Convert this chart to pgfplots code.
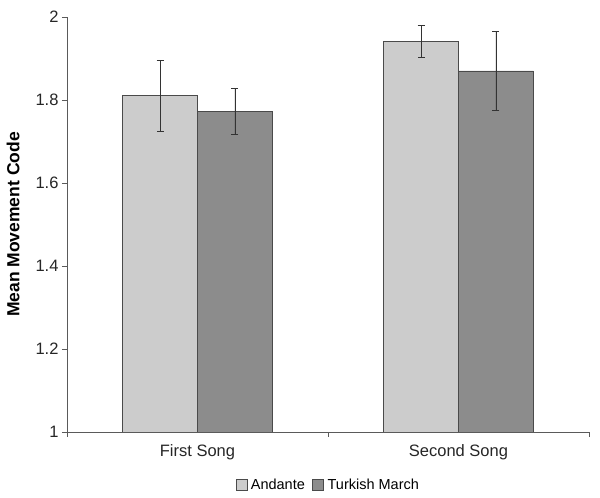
\documentclass[border=0pt]{standalone}
\usepackage{fontspec}
\setmainfont{Liberation Sans}
\usepackage{pgfplots}
\pgfplotsset{compat=1.18}
\definecolor{lightbar}{HTML}{CCCCCC}
\definecolor{darkbar}{HTML}{8C8C8C}
\definecolor{edge}{HTML}{4A4A4A}
\definecolor{axcol}{HTML}{5A5A5A}
\begin{document}
\begin{tikzpicture}
\begin{axis}[
  scale only axis,
  width=522bp, height=415bp,
  xmin=-0.5, xmax=1.5,
  ymin=1, ymax=2,
  ytick={1,1.2,1.4,1.6,1.8,2},
  xtick={0,1},
  xticklabels={First Song, Second Song},
  minor xtick={-0.5,0.5,1.5},
  major x tick style={draw=none},
  minor tick length=5bp,
  major tick length=5bp,
  tick align=outside,
  tick style={axcol, line width=0.8pt},
  axis x line*=bottom,
  axis y line*=left,
  axis line style={axcol, line width=0.9pt, -},
  /pgf/number format/assume math mode=true,
  tick label style={font=\fontsize{16.5bp}{18bp}\selectfont, text=black!85},
  xticklabel style={yshift=-4bp},
  ylabel={\bfseries Mean Movement Code},
  ylabel style={at={(axis description cs:-0.103,0.5)}, anchor=center, font=\fontsize{17.5bp}{19bp}\selectfont},
  ybar,
  bar width=0.287,
  legend style={at={(axis description cs:0.5,-0.128)}, anchor=center, draw=none, legend columns=2, font=\fontsize{14.5bp}{16bp}\selectfont, /tikz/every even column/.append style={column sep=6bp}, /tikz/every node/.append style={inner xsep=1.5bp}},
  legend image code/.code={\draw[#1] (0bp,-5.5bp) rectangle (11bp,5.5bp); \path (13bp,0bp);},
  legend cell align=left,
]
\addplot[fill=lightbar, draw=edge, line width=0.8pt, bar shift=-0.1435,
  error bars/.cd, y dir=both, y explicit, error mark options={rotate=90, mark size=3.5bp, line width=0.8pt, black!80}, error bar style={line width=0.8pt, black!80}]
  coordinates {(0,1.810) +- (0,0.086) (1,1.941) +- (0,0.038)};
\addlegendentry{Andante}
\addplot[fill=darkbar, draw=edge, line width=0.8pt, bar shift=0.1435,
  error bars/.cd, y dir=both, y explicit, error mark options={rotate=90, mark size=3.5bp, line width=0.8pt, black!80}, error bar style={line width=0.8pt, black!80}]
  coordinates {(0,1.773) +- (0,0.056) (1,1.870) +- (0,0.096)};
\addlegendentry{Turkish March}
\end{axis}
\path ([xshift=-67bp,yshift=-66bp]current axis.south west) rectangle ([xshift=11bp,yshift=17bp]current axis.north east);
\end{tikzpicture}
\end{document}
